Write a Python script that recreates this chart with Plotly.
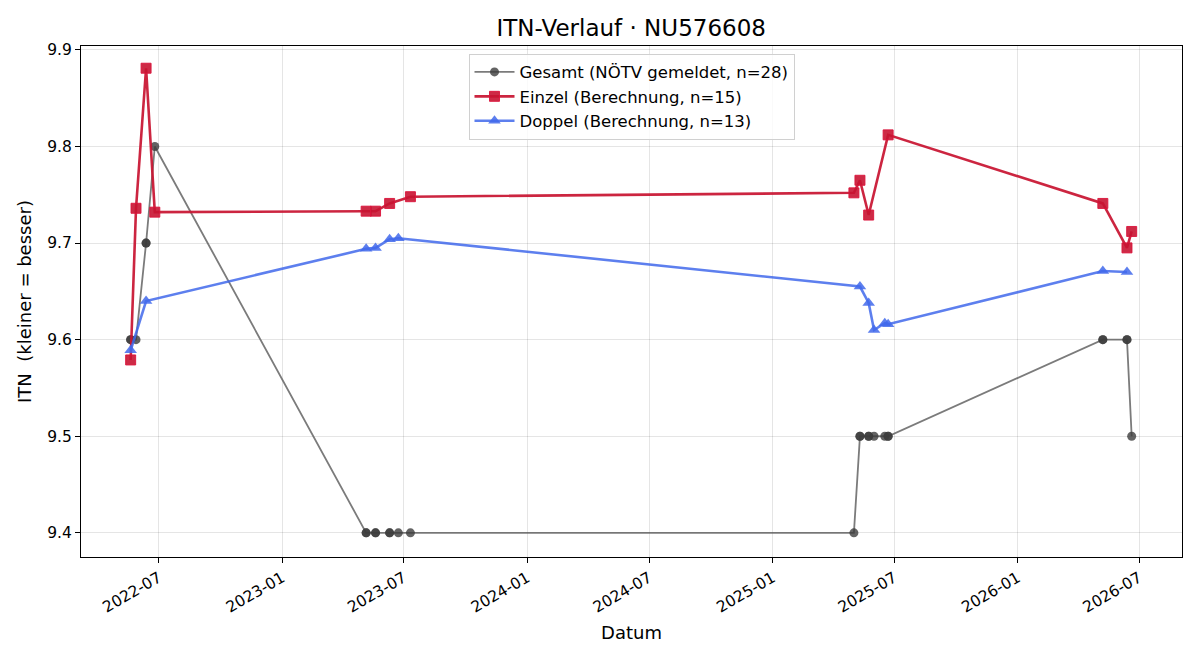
import plotly.graph_objects as go

# ---- data ----
einzel_dates = ["2022-05-20", "2022-05-28", "2022-06-12", "2022-06-25",
                "2023-05-06", "2023-05-20", "2023-06-10", "2023-07-11",
                "2025-05-02", "2025-05-11", "2025-05-24", "2025-06-22",
                "2026-05-08", "2026-06-13", "2026-06-20"]
einzel_vals = [9.579, 9.736, 9.881, 9.732,
               9.733, 9.733, 9.741, 9.748,
               9.752, 9.765, 9.729, 9.812,
               9.741, 9.695, 9.712]

doppel_dates = ["2022-05-20", "2022-06-12",
                "2023-05-06", "2023-05-20", "2023-06-10", "2023-06-23",
                "2025-05-11", "2025-05-24", "2025-06-01", "2025-06-17", "2025-06-22",
                "2026-05-08", "2026-06-13"]
doppel_vals = [9.589, 9.640,
               9.694, 9.695, 9.704, 9.705,
               9.655, 9.638, 9.610, 9.617, 9.616,
               9.671, 9.670]

gesamt_dates = ["2022-05-20", "2022-05-20", "2022-05-28", "2022-06-12", "2022-06-12", "2022-06-25",
                "2023-05-06", "2023-05-06", "2023-05-20", "2023-05-20", "2023-06-10", "2023-06-10",
                "2023-06-23", "2023-07-11",
                "2025-05-02", "2025-05-11", "2025-05-11", "2025-05-24", "2025-05-24", "2025-06-01",
                "2025-06-17", "2025-06-22", "2025-06-22",
                "2026-05-08", "2026-05-08", "2026-06-13", "2026-06-13", "2026-06-20"]
gesamt_vals = [9.6, 9.6, 9.6, 9.7, 9.7, 9.8,
               9.4, 9.4, 9.4, 9.4, 9.4, 9.4,
               9.4, 9.4,
               9.4, 9.5, 9.5, 9.5, 9.5, 9.5,
               9.5, 9.5, 9.5,
               9.6, 9.6, 9.6, 9.6, 9.5]

x_tickvals = ["2022-07-01", "2023-01-01", "2023-07-01", "2024-01-01", "2024-07-01",
              "2025-01-01", "2025-07-01", "2026-01-01", "2026-07-01"]
x_ticktext = ["2022-07", "2023-01", "2023-07", "2024-01", "2024-07",
              "2025-01", "2025-07", "2026-01", "2026-07"]
y_tickvals = [9.4, 9.5, 9.6, 9.7, 9.8, 9.9]

FONT = "DejaVu Sans"

fig = go.Figure()
fig.add_trace(go.Scatter(
    x=gesamt_dates, y=gesamt_vals, mode="lines+markers",
    name="Gesamt (NÖTV gemeldet, n=28)",
    line=dict(color="rgba(90,90,90,0.8)", width=1.8),
    marker=dict(symbol="circle", size=9, color="rgba(60,60,60,0.8)",
                line=dict(width=0)),
))
fig.add_trace(go.Scatter(
    x=einzel_dates, y=einzel_vals, mode="lines+markers",
    name="Einzel (Berechnung, n=15)",
    line=dict(color="rgba(200,20,50,0.93)", width=2.6),
    marker=dict(symbol="square", size=10, color="rgba(200,20,50,0.9)",
                line=dict(width=1, color="rgba(220,20,60,0.9)")),
))
fig.add_trace(go.Scatter(
    x=doppel_dates, y=doppel_vals, mode="lines+markers",
    name="Doppel (Berechnung, n=13)",
    line=dict(color="rgba(65,105,235,0.85)", width=2.6),
    marker=dict(symbol="triangle-up", size=11, color="rgba(65,105,235,0.85)",
                line=dict(width=0)),
))

fig.update_layout(
    width=1200, height=660,
    margin=dict(l=81, r=18, t=46, b=103),
    paper_bgcolor="white", plot_bgcolor="white",
    font=dict(family=FONT, size=15.5, color="black"),
    title=dict(text="ITN-Verlauf · NU576608", x=0.526, xanchor="center",
               y=1 - 28 / 660, yanchor="middle", yref="container",
               font=dict(family=FONT, size=23, color="black")),
    legend=dict(x=0.5, xanchor="center", y=0.985, yanchor="top",
                bgcolor="rgba(255,255,255,0.8)", bordercolor="#d0d0d0",
                borderwidth=1, font=dict(family=FONT, size=16.5),
                tracegroupgap=0, itemwidth=40),
    showlegend=True,
)
fig.update_xaxes(
    type="date", range=["2022-03-07", "2026-09-03"],
    tickvals=x_tickvals, ticktext=x_ticktext, tickangle=-30,
    showgrid=True, gridcolor="rgba(0,0,0,0.1)", gridwidth=1,
    showline=True, linecolor="black", linewidth=1, mirror=True,
    ticks="outside", ticklen=5, tickcolor="black",
    zeroline=False,
    title=dict(text="Datum", font=dict(family=FONT, size=18), standoff=10),
    tickfont=dict(family=FONT, size=15.5),
)
fig.update_yaxes(
    range=[9.375, 9.904], tickvals=y_tickvals,
    ticktext=[f"{v:.1f}" for v in y_tickvals],
    showgrid=True, gridcolor="rgba(0,0,0,0.1)", gridwidth=1,
    showline=True, linecolor="black", linewidth=1, mirror=True,
    ticks="outside", ticklen=5, tickcolor="black",
    zeroline=False,
    title=dict(text="ITN\u00a0\u00a0(kleiner = besser)", font=dict(family=FONT, size=18), standoff=10),
    tickfont=dict(family=FONT, size=15.5),
)

fig.write_html("out.html")
